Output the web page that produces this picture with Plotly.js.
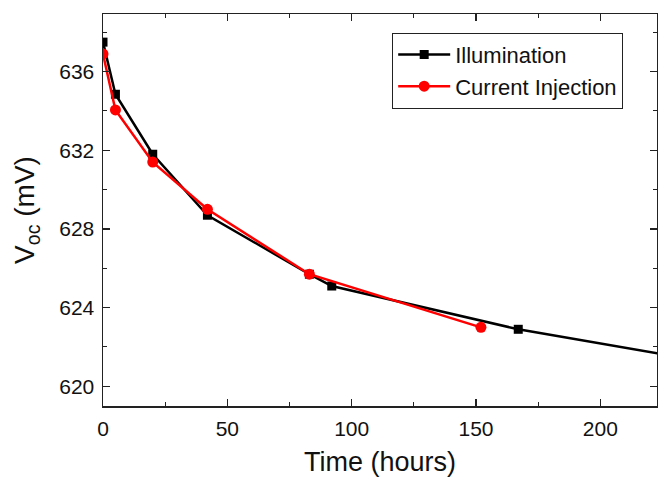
<!DOCTYPE html>
<html><head><meta charset="utf-8">
<script src="https://cdn.plot.ly/plotly-3.0.1.min.js"></script>
<style>body{margin:0;padding:0;background:#fff}#chart{width:658px;height:477px}</style>
</head><body><div id="chart"></div>
<script>
const illumTime = [0, 5, 20, 42, 83, 92, 167, 240];
const illumVoc  = [637.5, 634.85, 631.8, 628.7, 625.7, 625.1, 622.9, 621.3];
const injTime = [0, 5, 20, 42, 83, 152];
const injVoc  = [636.9, 634.05, 631.4, 629.0, 625.7, 623.0];
const seriesNames = ["Illumination", "Current Injection"];

const font = "Arial, 'Liberation Sans', sans-serif";
const traces = [
  {x: illumTime, y: illumVoc, name: seriesNames[0], mode: "lines+markers",
   line: {color: "#000000", width: 2.5}, marker: {symbol: "square", size: 9, color: "#000000"}},
  {x: injTime, y: injVoc, name: seriesNames[1], mode: "lines+markers",
   line: {color: "#ff0000", width: 2.5}, marker: {symbol: "circle", size: 11, color: "#ff0000"}}
];
const axisCommon = {
  showline: true, mirror: "ticks", linecolor: "#222", linewidth: 1.5,
  ticks: "inside", ticklen: 7, tickwidth: 1.2, tickcolor: "#222",
  showgrid: false, zeroline: false, ticklabelstandoff: 3,
  tickfont: {family: font, size: 21, color: "#111"}
};
const layout = {
  width: 658, height: 477,
  margin: {l: 103, r: 1, t: 14, b: 71},
  paper_bgcolor: "#fff", plot_bgcolor: "#fff",
  font: {family: font},
  xaxis: Object.assign({}, axisCommon, {
    range: [0, 222.8], tickvals: [0, 50, 100, 150, 200],
    minor: {tickvals: [25, 75, 125, 175], ticks: "inside", ticklen: 4, tickcolor: "#222", tickwidth: 1},
    title: {text: "Time (hours)", font: {family: font, size: 27, color: "#111"}, standoff: 15}
  }),
  yaxis: Object.assign({}, axisCommon, {
    range: [619.0, 638.93], tickvals: [620, 624, 628, 632, 636],
    minor: {tickvals: [622, 626, 630, 634, 638], ticks: "inside", ticklen: 4, tickcolor: "#222", tickwidth: 1},
    title: {text: "V<sub>oc</sub> (mV)", font: {family: font, size: 28, color: "#111"}, standoff: 16}
  }),
  legend: {x: 0.522, y: 0.952, xanchor: "left", yanchor: "top",
    bgcolor: "#fff", bordercolor: "#222", borderwidth: 1,
    font: {family: font, size: 22, color: "#111"}, itemwidth: 52, tracegroupgap: 0},
  showlegend: true
};
Plotly.newPlot("chart", traces, layout, {staticPlot: true, displayModeBar: false});
</script></body></html>
